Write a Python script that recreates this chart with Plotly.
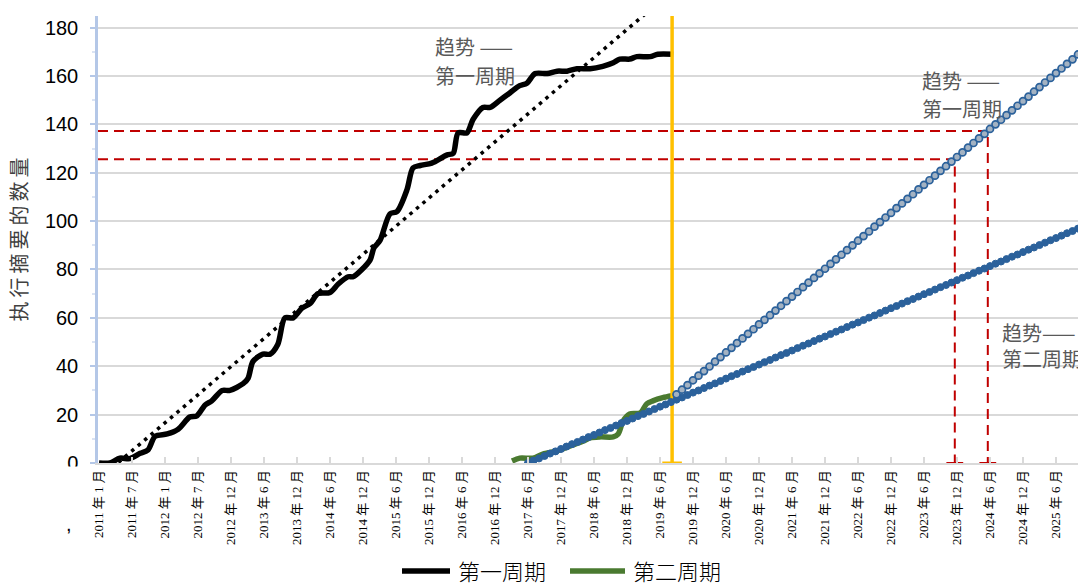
import plotly.graph_objects as go

# ---------------- data (x = months along the axis, 0 = 2011年1月, 6 per tick label) ----------------
tick_labels = ["2011 年 1 月", "2011 年 7 月", "2012 年 1 月", "2012 年 7 月", "2012 年 12 月",
               "2013 年 6 月", "2013 年 12 月", "2014 年 6 月", "2014 年 12 月", "2015 年 6 月",
               "2015 年 12 月", "2016 年 6 月", "2016 年 12 月", "2017 年 6 月", "2017 年 12 月",
               "2018 年 6 月", "2018 年 12 月", "2019 年 6 月", "2019 年 12 月", "2020 年 6 月",
               "2020 年 12 月", "2021 年 6 月", "2021 年 12 月", "2022 年 6 月", "2022 年 12 月",
               "2023 年 6 月", "2023 年 12 月", "2024 年 6 月", "2024 年 12 月", "2025 年 6 月"]
tick_pos = [6 * i for i in range(len(tick_labels))]

series_names = ["第一周期", "第二周期"]

cycle1_x = [0, 2, 3.8, 5.6, 7.5, 8.9, 10.2, 12.4, 14.4, 16.5, 17.8, 19.3, 20.5, 22.4, 23.8, 26.2,
            27.1, 28.0, 29.8, 31.1, 32.5, 33.8, 35.3, 36.9, 38.4, 39.8, 42.0, 43.5, 45.3, 46.2,
            47.8, 49.3, 50.0, 51.1, 52.9, 54.2, 56.0, 57.1, 58.4, 60.5, 63.3, 64.4, 65.3, 66.9,
            68.0, 69.8, 71.1, 72.9, 74.7, 76.5, 77.8, 79.3, 81.5, 83.3, 85.1, 86.9, 89.3, 91.6,
            93.5, 94.7, 96.5, 97.8, 100.2, 101.6, 104.4]
cycle1_y = [0, 0, 2, 1.8, 4, 5.4, 11, 12, 14, 19, 19.5, 24, 25.7, 30, 30, 32.8,
            35, 42, 45, 45, 49, 60, 60, 64, 66, 70, 70.5, 74, 77, 77,
            80, 84, 89, 92, 103, 104, 113, 122, 123, 124, 127.4, 128, 136.5, 136.5,
            142, 147, 147, 150, 153, 156, 157, 161, 161, 162, 162, 163, 163, 164,
            165.5, 167, 167, 168, 168, 169, 169]

cycle2_x = [75.1, 76.5, 78.9, 80.7, 83.3, 85.6, 88.0, 89.3, 91.1, 93.5, 94.4, 95.3, 96.5,
            98.4, 99.6, 100.7, 102.5, 104.2]
cycle2_y = [0.8, 2, 2, 3.7, 5, 7, 9, 10.4, 10.8, 10.8, 12, 17.4, 20.3,
            20.7, 24.5, 25.7, 27, 27.8]

# linear trend of cycle 1 (dotted), two end points
trend1_x = [0, 104]
trend1_y = [-6.6, 194.7]

# trend of cycle 1 projected from today (hollow markers), monthly
trendA_x = list(range(105, 180))
trendA_y = [28.4, 30.3, 32.2, 34.2, 36.1, 38.0, 39.9, 41.9, 43.8, 45.7, 47.6, 49.6, 51.5, 53.4,
            55.3, 57.3, 59.2, 61.1, 63.0, 65.0, 66.9, 68.8, 70.7, 72.7, 74.6, 76.5, 78.4, 80.3,
            82.3, 84.2, 86.1, 88.0, 90.0, 91.9, 93.8, 95.7, 97.7, 99.6, 101.5, 103.4, 105.4,
            107.3, 109.2, 111.1, 113.1, 115.0, 116.9, 118.8, 120.8, 122.7, 124.6, 126.5, 128.4,
            130.4, 132.3, 134.2, 136.1, 138.1, 140.0, 141.9, 143.8, 145.8, 147.7, 149.6, 151.5,
            153.5, 155.4, 157.3, 159.2, 161.2, 163.1, 165.0, 166.9, 168.9, 170.8]

# trend of cycle 2 (solid markers), monthly
trendB_x = list(range(78, 180))
trendB_y = [0.0, 1.0, 1.9, 2.9, 3.9, 4.8, 5.8, 6.8, 7.8, 8.7, 9.7, 10.7, 11.6, 12.6, 13.6, 14.5,
            15.5, 16.5, 17.4, 18.4, 19.4, 20.3, 21.3, 22.3, 23.3, 24.2, 25.2, 26.2, 27.1, 28.1,
            29.1, 30.0, 31.0, 32.0, 32.9, 33.9, 34.9, 35.9, 36.8, 37.8, 38.8, 39.7, 40.7, 41.7,
            42.6, 43.6, 44.6, 45.5, 46.5, 47.5, 48.5, 49.4, 50.4, 51.4, 52.3, 53.3, 54.3, 55.2,
            56.2, 57.2, 58.1, 59.1, 60.1, 61.0, 62.0, 63.0, 64.0, 64.9, 65.9, 66.9, 67.8, 68.8,
            69.8, 70.7, 71.7, 72.7, 73.6, 74.6, 75.6, 76.6, 77.5, 78.5, 79.5, 80.4, 81.4, 82.4,
            83.3, 84.3, 85.3, 86.2, 87.2, 88.2, 89.1, 90.1, 91.1, 92.1, 93.0, 94.0, 95.0, 95.9,
            96.9, 97.9]

# red reference points on the projected trend
ref_x = [155.6, 161.6]
ref_y = [125.6, 137.3]

# today marker (yellow)
today_x = 104.2

# ---------------- layout geometry ----------------
W, H = 1078, 584
ML, MR, MT, MB = 98, 0, 16, 121
PW, PH = W - ML - MR, H - MT - MB
X_RANGE = [-0.18, 178.0]
Y_RANGE = [0, 184.8]


def px_x(p):
    return (p - ML) / PW


def px_y(p):
    return (H - MB - p) / PH


RED = "#C00000"
YELLOW = "#FFC000"
BLUE = "#2B619B"
GREEN = "#4A7A30"
BLACK = "#000000"

fig = go.Figure()

# red guide lines
for xr, yr in zip(ref_x, ref_y):
    fig.add_trace(go.Scatter(x=[X_RANGE[0], xr, xr], y=[yr, yr, 0], mode="lines",
                             line=dict(color=RED, width=2, dash="10px,6px"),
                             showlegend=False, hoverinfo="skip"))
    fig.add_trace(go.Scatter(x=[xr], y=[0], mode="markers", cliponaxis=False,
                             marker=dict(symbol="line-ew", size=12,
                                         line=dict(color=RED, width=2)),
                             showlegend=False, hoverinfo="skip"))

# cycle 1
fig.add_trace(go.Scatter(x=cycle1_x, y=cycle1_y, mode="lines", name=series_names[0],
                         showlegend=False,
                         line=dict(color=BLACK, width=5.5, shape="spline", smoothing=0.8)))
# trend of cycle 1 (dotted)
fig.add_trace(go.Scatter(x=trend1_x, y=trend1_y, mode="lines",
                         line=dict(color=BLACK, width=3.5, dash="3.5px,5px"),
                         showlegend=False, hoverinfo="skip"))
# cycle 2
fig.add_trace(go.Scatter(x=cycle2_x, y=cycle2_y, mode="lines", name=series_names[1],
                         showlegend=False,
                         line=dict(color=GREEN, width=5.5, shape="spline", smoothing=0.8)))

# yellow today line
fig.add_trace(go.Scatter(x=[today_x, today_x], y=[0, 200], mode="lines",
                         line=dict(color=YELLOW, width=3.5),
                         showlegend=False, hoverinfo="skip"))
fig.add_trace(go.Scatter(x=[today_x], y=[0], mode="markers", cliponaxis=False,
                         marker=dict(symbol="line-ew", size=14,
                                     line=dict(color=YELLOW, width=3)),
                         showlegend=False, hoverinfo="skip"))

# trend B (cycle 2 trend)
fig.add_trace(go.Scatter(x=trendB_x, y=trendB_y, mode="markers",
                         marker=dict(symbol="circle", size=7, color=BLUE,
                                     line=dict(color=BLUE, width=1)),
                         showlegend=False, hoverinfo="skip"))
# trend A (cycle 1 trend projected)
fig.add_trace(go.Scatter(x=trendA_x, y=trendA_y, mode="markers",
                         marker=dict(symbol="circle", size=7, color="#A3B2C2",
                                     line=dict(color=BLUE, width=1.7)),
                         showlegend=False, hoverinfo="skip"))

ann_font = dict(family="Noto Sans CJK SC", size=20, color="#595959")
annotations = []
for text, xp, yp in [("趋势 ——", 433, 46), ("第一周期", 433, 75),
                     ("趋势 ——", 920, 81), ("第一周期", 920, 108),
                     ("趋势——", 1000, 332), ("第二周期", 1000, 358)]:
    annotations.append(dict(text=text, x=px_x(xp), y=px_y(yp), xref="paper", yref="paper",
                            xanchor="left", yanchor="middle", showarrow=False, font=ann_font))
annotations.append(dict(text=",", x=px_x(69), y=px_y(524), xref="paper", yref="paper",
                        xanchor="center", yanchor="middle", showarrow=False,
                        font=dict(family="Liberation Sans", size=20, color="#000000")))

# legend drawn as line samples + labels below the axis
legend_items = [(series_names[0], BLACK, 402, 450, 456), (series_names[1], GREEN, 570, 625, 631)]
shapes = [dict(type="rect", xref="paper", yref="paper", x0=px_x(55), x1=px_x(86),
               y0=px_y(478), y1=px_y(466.5), fillcolor="white", line=dict(width=0),
               layer="above")]
for name, col, lx0, lx1, tx in legend_items:
    shapes.append(dict(type="line", xref="paper", yref="paper", x0=px_x(lx0), x1=px_x(lx1),
                       y0=px_y(571), y1=px_y(571), line=dict(color=col, width=5.5),
                       layer="above"))
    annotations.append(dict(text=name, x=px_x(tx), y=px_y(570), xref="paper", yref="paper",
                            xanchor="left", yanchor="middle", showarrow=False,
                            font=dict(family="Noto Sans CJK SC", size=22, color="#000000",
                                      weight=300)))

fig.update_layout(
    width=W, height=H,
    margin=dict(l=ML, r=MR, t=MT, b=MB, pad=0, autoexpand=False),
    paper_bgcolor="white", plot_bgcolor="white",
    showlegend=False,
    annotations=annotations,
    shapes=shapes,
)

fig.update_xaxes(range=X_RANGE, tickmode="array", tickvals=tick_pos, ticktext=tick_labels,
                 tickangle=-90, showgrid=False, zeroline=False, automargin=False,
                 showline=True, linecolor="#D9D9D9", linewidth=2,
                 ticks="inside", ticklen=6, tickcolor="#D9D9D9", tickwidth=1.5,
                 tickfont=dict(family="Liberation Serif, Noto Sans CJK SC", size=13, color="#000000"))

fig.update_yaxes(range=Y_RANGE, tickmode="array", tickvals=list(range(0, 181, 20)),
                 showgrid=True, gridcolor="#D9D9D9", gridwidth=1.5, zeroline=False,
                 automargin=False,
                 showline=True, linecolor="#B4C7E7", linewidth=2.5,
                 ticks="outside", ticklen=5, tickcolor="#B4C7E7", tickwidth=1.5,
                 ticklabelstandoff=8,
                 minor=dict(ticks="outside", ticklen=3, tickcolor="#DAE3F3", dtick=10,
                            showgrid=False),
                 tickfont=dict(family="Liberation Sans", size=20, color="#000000"),
                 title=dict(text="\u2009".join("执行摘要的数量"), standoff=12,
                            font=dict(family="Noto Sans CJK SC", size=20, color="#404040")))

# remove the page's default 8px body margin so the figure sits at the window corner
fig.write_html("out.html",
               config={"displayModeBar": False},
               post_script="document.body.style.margin='0';"
                           "document.documentElement.style.overflow='hidden';")
